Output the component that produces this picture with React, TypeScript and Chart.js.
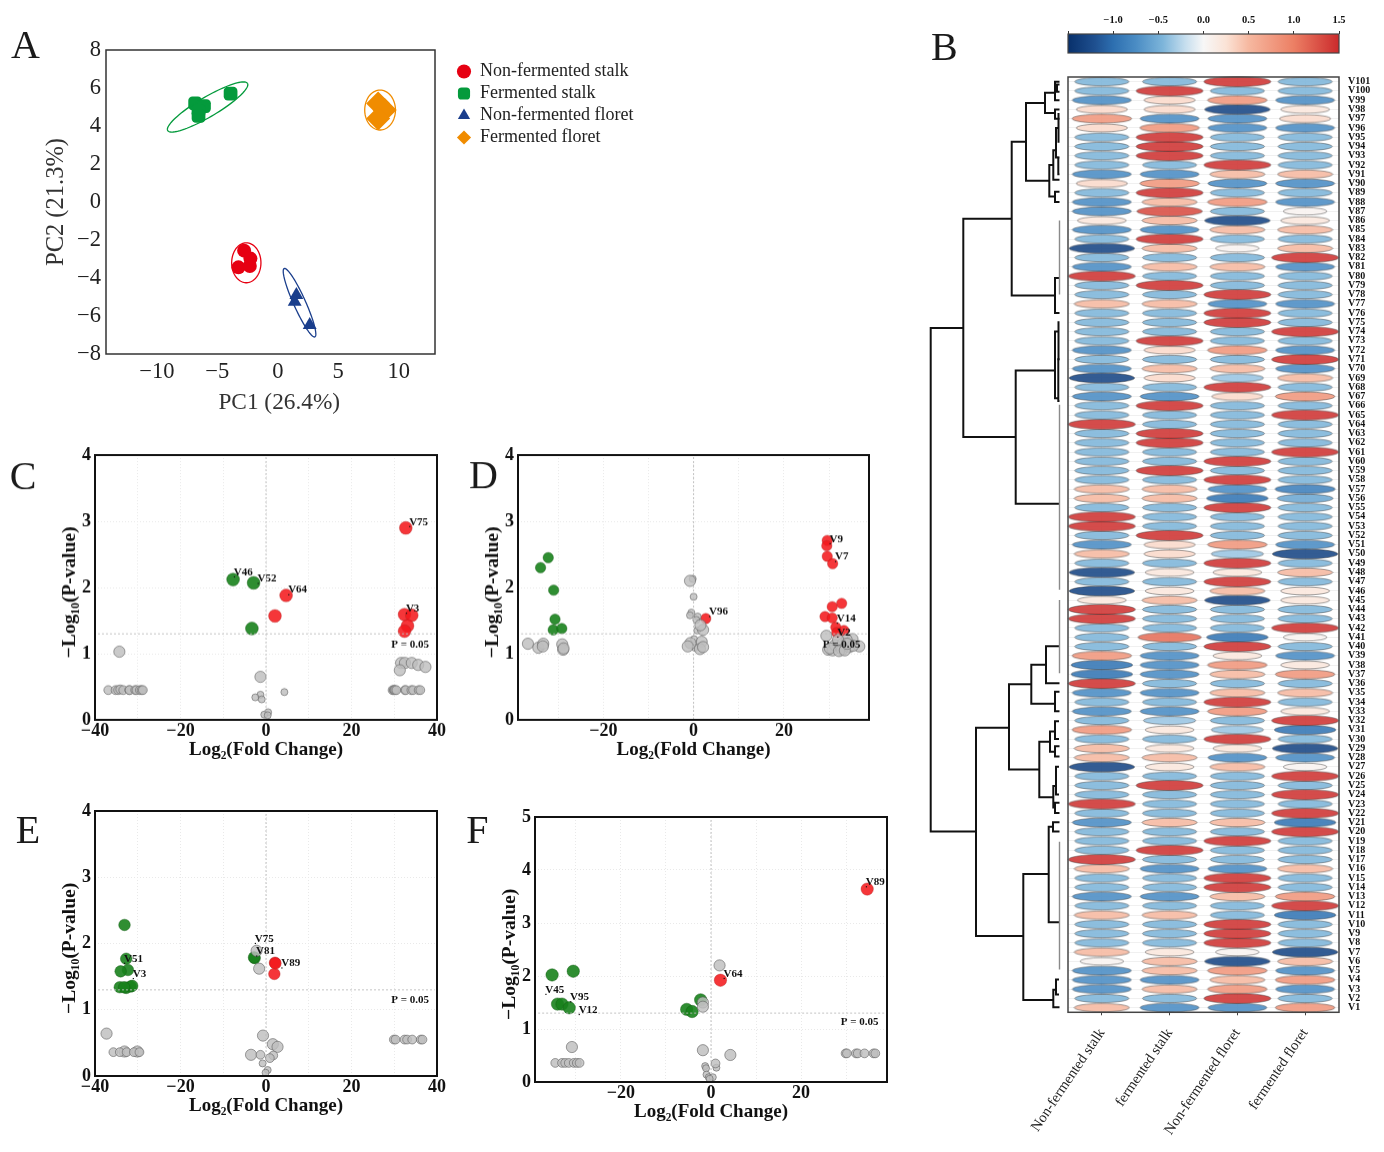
import React, { useEffect, useRef } from "react";
import { Chart, registerables } from "chart.js";

Chart.register(...registerables);

// ---------- Panel A ----------
const pcaStalk = [[-2.78, -2.56], [-2.26, -2.98], [-3.25, -3.44], [-2.31, -3.37]];
const pcaFermStalk = [[-6.83, 5.19], [-6.1, 5.05], [-6.55, 4.8], [-6.55, 4.53], [-3.9, 5.7]];
const pcaFloret = [[1.54, -4.9], [1.4, -5.25], [2.64, -6.47]];
const pcaFermFloret = [[8.3, 5.19], [8.84, 4.84], [8.3, 4.4]];
const pcaNames = ["Non-fermented stalk", "Fermented stalk", "Non-fermented floret", "Fermented floret"];
const pcaColors = ["#e60012", "#049a3c", "#1a3e8c", "#f08c00"];
// centre x, centre y, major axis vector, minor axis vector (data units)
const pcaEllipses = [
  [-2.6, -3.2, 1.21, 0, 0, 1.05],
  [-5.8, 5.0, 3.3, 1.24, -0.41, 0.45],
  [1.8, -5.3, 1.27, -1.8, 0.45, 0.13],
  [8.46, 4.84, 1.27, 0, 0, 1.05],
];

// ---------- Panel C ----------
const cRed = [[32.7, 2.9], [4.7, 1.88], [2.1, 1.57], [32.4, 1.59], [34.1, 1.58], [33.1, 1.42], [32.4, 1.34]];
const cGreen = [[-7.7, 2.12], [-2.9, 2.07], [-3.3, 1.38]];
const cGray = [[-34.3, 1.03], [31.6, 0.86], [32.5, 0.86], [34.1, 0.86], [35.6, 0.83], [37.3, 0.8], [31.3, 0.75], [-1.3, 0.65]];
const cGrayRow = [[-36.9, 0.45], [-35.2, 0.45], [-34.6, 0.45], [-34.1, 0.46], [-33.4, 0.45], [-32, 0.45], [-31.9, 0.45], [-30.6, 0.45], [-30.3, 0.45], [-29.5, 0.45], [-29.1, 0.45], [-28.8, 0.45],
  [29.6, 0.45], [29.9, 0.45], [30, 0.45], [30.2, 0.45], [30.5, 0.45], [32.5, 0.45], [32.7, 0.45], [34, 0.45], [34.4, 0.45], [35.7, 0.45], [36.1, 0.45]];
const cGraySmall = [[-1.3, 0.38], [-2.5, 0.34], [-1, 0.31], [4.3, 0.42], [0.5, 0.115], [-0.4, 0.08], [0.4, 0.07]];
const cNotes: [string, number, number][] = [["V75", 35.7, 2.99], ["V46", -5.3, 2.23], ["V52", 0.25, 2.13], ["V64", 7.4, 1.96], ["V3", 34.3, 1.68], ["P = 0.05", 33.7, 1.14]];

// ---------- Panel D ----------
const dRed = [[29.6, 2.71], [29.5, 2.63], [29.6, 2.47], [30.8, 2.36], [32.8, 1.76], [30.7, 1.71], [29.1, 1.56], [30.7, 1.54], [31.5, 1.4], [33.3, 1.35], [31.7, 1.32], [2.7, 1.53]];
const dGreen = [[-32.2, 2.45], [-33.9, 2.3], [-31, 1.96], [-30.7, 1.52], [-31.1, 1.36], [-29.2, 1.38]];
const dGray = [[-36.7, 1.15], [-34.4, 1.09], [-33.3, 1.15], [-33.4, 1.11], [-29.1, 1.14], [-28.9, 1.06], [-28.8, 1.08],
  [-0.8, 2.1], [2.1, 1.36], [1.5, 1.43], [1.8, 1.18], [-0.7, 1.16], [-1.3, 1.11], [1.4, 1.07], [2.1, 1.1],
  [29.4, 1.27], [35.2, 1.22], [29.8, 1.06], [30.8, 1.05], [31.3, 1.13], [32.9, 1.06], [33.1, 1.16], [34.5, 1.1], [36.7, 1.11], [33.9, 1.21], [32, 1.21], [35.3, 1.12],
  [30.2, 1.08], [32.2, 1.04], [33.5, 1.05], [34, 1.15]];
const dGrayRow: number[][] = [];
const dGraySmall = [[-0.2, 2.13], [0, 1.86], [-0.5, 1.62], [-0.8, 1.58], [0.9, 1.56], [0.6, 1.51], [0.8, 1.35], [0.1, 1.22], [0.3, 1.09]];
const dNotes: [string, number, number][] = [["V9", 31.6, 2.73], ["V7", 32.8, 2.46], ["V96", 5.5, 1.63], ["V14", 33.8, 1.53], ["V2", 33.3, 1.32], ["P = 0.05", 32.8, 1.14]];

// ---------- Panel E ----------
const eRed = [[2.1, 1.71], [1.95, 1.54], [2.2, 1.7]];
const eGreen = [[-33.1, 2.28], [-32.7, 1.77], [-32.3, 1.6], [-34, 1.58], [-34.2, 1.34], [-32.7, 1.33], [-31.7, 1.35], [-31.3, 1.36], [-33.2, 1.34], [-2.65, 1.78], [-2.8, 1.79]];
const eGray = [[-37.3, 0.64], [-2.2, 1.89], [-1.6, 1.62], [-0.7, 0.61], [1.6, 0.48], [2.7, 0.44], [-3.5, 0.32], [-33.1, 0.37], [-30.1, 0.37]];
const eGrayRow = [[-35.7, 0.36], [-34.2, 0.36], [-32.6, 0.36], [-30.9, 0.36], [-29.6, 0.36], [-1.3, 0.32], [1.7, 0.31], [0.9, 0.27],
  [29.9, 0.55], [30.3, 0.55], [32.4, 0.55], [33, 0.55], [34.2, 0.55], [36.2, 0.55], [36.6, 0.55]];
const eGraySmall = [[-0.8, 0.19], [0.4, 0.09], [-0.1, 0.05]];
const eNotes: [string, number, number][] = [["V75", -0.4, 2.07], ["V81", -0.1, 1.88], ["V89", 5.8, 1.7], ["V51", -31, 1.77], ["V3", -29.6, 1.54], ["P = 0.05", 33.7, 1.15]];

// ---------- Panel F ----------
const fRed = [[34.7, 3.64], [2.1, 1.92]];
const fGreen = [[-35.3, 2.02], [-30.6, 2.09], [-34.1, 1.47], [-33.1, 1.47], [-31.5, 1.4], [-5.4, 1.37], [-4.2, 1.33], [-2.3, 1.55]];
const fGray = [[1.9, 2.2], [-1.8, 1.5], [-1.8, 1.42], [-30.9, 0.66], [-1.8, 0.6], [4.3, 0.51]];
const fGrayRow = [[-34.6, 0.36], [-33.1, 0.36], [-32.4, 0.36], [-31.6, 0.36], [-30.5, 0.36], [-29.8, 0.36], [-29.2, 0.36], [1, 0.35],
  [29.9, 0.54], [30.2, 0.54], [32.2, 0.54], [32.6, 0.54], [34.1, 0.54], [36.1, 0.54], [36.5, 0.54]];
const fGraySmall = [[1.2, 0.27], [-1.3, 0.3], [-1.1, 0.26], [-1, 0.14], [-0.5, 0.09], [0.4, 0.09], [-0.3, 0.06]];
const fNotes: [string, number, number][] = [["V89", 36.5, 3.77], ["V64", 4.9, 2.04], ["V45", -34.7, 1.74], ["V95", -29.2, 1.6], ["V12", -27.3, 1.36], ["P = 0.05", 33, 1.13]];

const pThreshold = 1.3;

// ---------- Panel B ----------
const sampleNames = ["Non-fermented stalk", "fermented stalk", "Non-fermented floret", "fermented floret"];
const rowNames = Array.from({ length: 101 }, (_, i) => "V" + (101 - i));
// values from V1 to V101
const nonFermStalk = [
  0.5, -0.45, -0.75, -0.75, -0.75, 0.05, 0.5, -0.45, -0.45, -0.45,
  0.5, -0.45, -0.75, -0.45, -0.45, 0.5, 1.45, -0.45, -0.45, -0.45,
  -0.75, -0.45, 1.45, -0.45, -0.45, -0.45, -1.3, 0.5, 0.5, -0.45,
  0.8, -0.45, -0.75, -0.45, -0.75, 1.45, -0.95, -0.95, 0.8, -0.45,
  -0.45, -0.45, 1.45, 1.45, 0.2, -1.3, -0.45, -1.3, -0.45, 0.5,
  -0.75, -0.45, 1.45, 1.45, -0.45, 0.5, 0.5, -0.45, -0.45, -0.45,
  -0.45, -0.45, -0.45, 1.45, -0.45, -0.45, -0.75, -0.45, -1.3, -0.75,
  -0.45, -0.75, -0.45, -0.45, -0.45, -0.45, 0.5, -0.45, -0.45, 1.45,
  -0.75, -0.45, -1.3, -0.45, -0.75, 0.2, -0.75, -0.75, -0.45, 0.3,
  -0.75, -0.45, -0.45, -0.45, -0.45, 0.3, 0.8, 0.3, -0.75, -0.45, -0.45,
];
const fermStalk = [
  -0.75, -0.45, 0.5, -0.75, 0.5, 0.5, 0.2, -0.45, -0.45, -0.45,
  0.5, -0.45, -0.75, -0.45, -0.45, -0.75, -0.45, 1.45, -0.45, -0.45,
  0.5, -0.45, -0.45, -0.45, 1.45, -0.45, 0.2, 0.5, 0.2, -0.45,
  0.2, -0.35, -0.75, -0.45, -0.75, -0.45, -0.75, -0.75, -0.75, -0.45,
  1.1, -0.45, -0.45, -0.45, 0.5, 0.2, -0.45, 0.2, -0.45, 0.3,
  0.3, 1.45, -0.45, -0.45, -0.45, 0.5, 0.5, -0.45, 1.45, -0.45,
  -0.45, 1.45, 1.45, -0.45, -0.45, 1.45, -0.75, -0.45, 0.3, 0.5,
  -0.45, 0.3, 1.45, -0.45, -0.45, -0.45, 0.5, -0.45, 1.45, -0.45,
  0.5, -0.45, 0.5, 1.45, -0.75, 0.5, 1.3, 0.5, 1.45, 0.8,
  -0.75, -0.45, 1.45, 1.45, 1.45, 0.8, -0.75, 0.3, 0.3, 1.45, -0.45,
];
const nonFermFloret = [
  -0.75, 1.45, 0.8, 0.5, 0.8, -1.3, 0.05, 1.45, 1.45, 1.45,
  -0.45, -0.45, 0.5, 1.45, 1.45, -0.75, -0.45, -0.45, 1.45, -0.45,
  0.5, -0.45, -0.45, -0.45, -0.45, -0.45, 0.5, -0.75, 0.2, 1.45,
  -0.35, -0.45, 0.8, 1.45, 0.5, -0.45, 0.5, 0.8, 0.2, 1.45,
  -0.95, -0.45, -0.45, -0.45, -1.3, 0.5, 1.45, 0.2, 1.45, -0.35,
  0.8, -0.45, -0.45, -0.45, 1.45, -0.95, -0.75, 1.45, -0.45, 1.45,
  -0.45, -0.45, -0.45, -0.45, -0.45, -0.45, 0.3, 1.45, -0.35, 0.5,
  -0.45, 0.8, -0.45, -0.45, 1.45, 1.45, -0.75, 1.45, -0.45, -0.45,
  0.5, -0.45, 0.05, -0.45, 0.5, -1.3, -0.45, 0.8, -0.45, -0.75,
  0.5, 1.45, -0.45, -0.45, -0.45, -0.75, -0.75, -1.3, 0.8, -0.45, 1.45,
];
const fermFloret = [
  0.8, -0.45, -0.75, 0.8, -0.75, 0.5, -1.3, -0.45, -0.45, -0.45,
  -0.95, 1.45, 0.8, -0.45, -0.45, 0.5, -0.45, -0.45, -0.45, 1.45,
  -0.95, 1.45, -0.45, 1.45, -0.45, 1.45, 0.05, -0.75, -1.3, -0.45,
  -0.95, 1.45, 0.2, -0.45, 0.5, -0.45, 0.8, 0.2, -0.75, -0.45,
  0.05, 1.45, -0.45, -0.45, 0.2, 0.2, -0.45, 0.5, -0.45, -1.3,
  -0.75, -0.45, -0.45, -0.45, -0.45, -0.55, -0.85, -0.45, -0.45, -0.45,
  1.45, -0.45, -0.45, -0.45, 1.45, -0.45, 0.8, -0.45, 0.5, -0.75,
  1.45, -0.75, -0.45, 1.45, -0.45, -0.45, -0.75, -0.45, -0.45, -0.45,
  -0.75, 1.45, 0.5, -0.45, 0.5, 0.2, 0.05, -0.75, -0.45, -0.75,
  0.5, -0.45, -0.45, -0.45, -0.45, -0.75, 0.3, 0.2, -0.75, -0.45, -0.45,
];
const heatColumns = [nonFermStalk, fermStalk, nonFermFloret, fermFloret];

const colorStops: [number, string][] = [
  [-1.5, "#08306b"], [-1.2, "#1f5090"], [-1, "#2d6fb0"], [-0.75, "#4a8cc4"], [-0.45, "#7db5da"], [-0.2, "#c6deee"],
  [0, "#f7f7f7"], [0.25, "#fbe3d6"], [0.5, "#f6b8a0"], [1, "#ec7f64"], [1.5, "#cb2a2c"],
];
const colorbarTicks = { min: -1.5, max: 1.5, step: 0.5 };

// merge distance, upper row, lower row, upper child distance, lower child distance
const dendroLinks = [
  [128.8, 74.4, 20, 96.2, 83.5], [96.2, 86.2, 62.6, 47.8, 43.8], [47.8, 94.5, 77.9, 33.5, 4.5], [33.5, 98.7, 90.3, 14.5, 10.2],
  [14.5, 99.8, 97.6, 4.5, 4.5], [4.5, 101, 99, 0, 0], [2.5, 100.7, 99.9, 0, 0], [4.5, 98, 97, 0, 0], [10.2, 92, 88.6, 6.2, 4.5], [6.2, 93.6, 90.4, 3.5, 0],
  [3.5, 96, 92.8, 1, 1], [1, 97.5, 94.5, 0, 0], [1.2, 92.8, 91, 0, 0], [4.5, 89.1, 88, 0, 0], [4.5, 79.8, 76, 0, 0], [43.8, 69.8, 55.4, 4.5, 0], [4.5, 74, 66.8, 1, 1], [1, 75, 71, 0, 0], [1.2, 71, 66.5, 0, 0],
  [83.5, 31.2, 8.7, 50.5, 36.2], [50.5, 35.9, 26.7, 28.2, 20.2], [28.2, 38, 33.8, 13.5, 4.5], [13.5, 40, 36, 0, 0], [4.5, 35.1, 33, 0, 0],
  [20.2, 29.7, 23.7, 9.5, 6.2], [9.5, 30.8, 28.6, 4.5, 4.5], [4.5, 31.9, 30, 0.5, 0.5], [4.5, 29.2, 28.1, 0, 0], [6.2, 24.9, 22.6, 3.5, 4.5],
  [3.5, 27, 24, 0.5, 0.5], [4.5, 23.1, 22, 0, 0], [36.2, 15.4, 1.8, 10.8, 6.2], [10.8, 20.5, 10.2, 6.5, 0], [6.5, 21, 20, 0, 0],
  [6.2, 2.9, 1, 3.5, 0], [3.5, 4, 2.4, 0.5, 0.5],
];
const dendroFlat = [[86, 78], [66.1, 46.1], [45, 37.1], [18.9, 5.1]];

// ---------- helpers ----------
const SERIF = "'Liberation Serif', 'Times New Roman', serif";
const minus = (v: number | string) => String(v).replace("-", "\u2212");
const fixY = (w: number) => (s: any) => { s.width = w; s.paddingTop = 0; s.paddingBottom = 0; };
const fixX = (h: number) => (s: any) => { s.height = h; s.paddingLeft = 0; s.paddingRight = 0; };
const xy = (p: number[][]) => p.map(([x, y]) => ({ x, y }));

function hex(c: string) {
  return [1, 3, 5].map((i) => parseInt(c.slice(i, i + 2), 16));
}
function colorFor(v: number) {
  for (let i = 1; i < colorStops.length; i++) {
    if (v <= colorStops[i][0]) {
      const [a, ca] = colorStops[i - 1];
      const [b, cb] = colorStops[i];
      const t = (v - a) / (b - a);
      const A = hex(ca), B = hex(cb);
      return `rgb(${A.map((n, k) => Math.round(n + (B[k] - n) * t)).join(",")})`;
    }
  }
  return colorStops[colorStops.length - 1][1];
}
const sprites = new Map<number, HTMLCanvasElement>();
function ellipseSprite(v: number) {
  let c = sprites.get(v);
  if (c) return c;
  const m = Math.abs(v);
  const w = 38 + 24 * Math.sqrt(m);
  const h = 7.4 + 1.8 * m;
  c = document.createElement("canvas");
  c.width = Math.ceil(w + 2);
  c.height = Math.ceil(h + 2);
  const g = c.getContext("2d")!;
  g.beginPath();
  g.ellipse(c.width / 2, c.height / 2, w / 2, h / 2, 0, 0, Math.PI * 2);
  g.fillStyle = colorFor(v);
  g.globalAlpha = 0.88;
  g.fill();
  g.globalAlpha = 1;
  g.lineWidth = 0.6;
  g.strokeStyle = "rgba(50,50,50,0.75)";
  g.stroke();
  sprites.set(v, c);
  return c;
}

const framePlugin = (color: string, lineWidth: number) => ({
  id: "frame",
  afterDatasetsDraw(chart: any) {
    const { ctx, chartArea: a } = chart;
    ctx.save();
    ctx.strokeStyle = color;
    ctx.lineWidth = lineWidth;
    ctx.strokeRect(a.left, a.top, a.right - a.left, a.bottom - a.top);
    ctx.restore();
  },
});
const letterPlugin = (t: string, x: number, y: number) => ({
  id: "letter",
  afterDraw(chart: any) {
    const { ctx } = chart;
    ctx.save();
    ctx.font = `40px ${SERIF}`;
    ctx.fillStyle = "#1a1a1a";
    ctx.textAlign = "left";
    ctx.textBaseline = "alphabetic";
    ctx.fillText(t, x, y);
    ctx.restore();
  },
});
const notesPlugin = (notes: [string, number, number][]) => ({
  id: "notes",
  afterDatasetsDraw(chart: any) {
    const { ctx, scales } = chart;
    ctx.save();
    ctx.font = `bold 11px ${SERIF}`;
    ctx.fillStyle = "#111";
    ctx.textAlign = "center";
    ctx.textBaseline = "middle";
    notes.forEach(([t, x, y]) => {
      const px = scales.x.getPixelForValue(x);
      const py = scales.y.getPixelForValue(y);
      ctx.fillText(t, px, py);
      if (t[0] === "V") ctx.fillRect(px - ctx.measureText(t).width / 2, py + 4, 1.2, 1.2);
    });
    ctx.restore();
  },
});
const ellipsePlugin = {
  id: "pcaEllipses",
  afterDatasetsDraw(chart: any) {
    const { ctx, scales } = chart;
    pcaEllipses.forEach(([cx, cy, ux, uy, vx, vy], i) => {
      ctx.save();
      ctx.strokeStyle = pcaColors[i];
      ctx.lineWidth = 1.3;
      ctx.beginPath();
      for (let k = 0; k <= 90; k++) {
        const t = (k / 90) * Math.PI * 2;
        const X = scales.x.getPixelForValue(cx + ux * Math.cos(t) + vx * Math.sin(t));
        const Y = scales.y.getPixelForValue(cy + uy * Math.cos(t) + vy * Math.sin(t));
        k ? ctx.lineTo(X, Y) : ctx.moveTo(X, Y);
      }
      ctx.stroke();
      ctx.restore();
    });
  },
};
const legendPlace = (left: number, top: number) => ({
  id: "legendPlace",
  afterLayout(chart: any) {
    const L = chart.legend;
    L.left = left; L.top = top; L.right = left + 210; L.bottom = top + 120;
  },
});

const base = {
  animation: false as const,
  responsive: false,
  maintainAspectRatio: false,
  events: [] as string[],
};

// ---------- chart configs ----------
function pcaConfig(): any {
  const series = [pcaStalk, pcaFermStalk, pcaFloret, pcaFermFloret];
  const styles = ["circle", "rectRounded", "triangle", "rectRot"];
  const radii = [7, 8, 8, 12];
  return {
    type: "scatter",
    data: {
      datasets: series.map((d, i) => ({
        label: pcaNames[i], data: xy(d), pointStyle: styles[i], pointRadius: radii[i],
        backgroundColor: pcaColors[i], borderColor: pcaColors[i], borderWidth: 0,
      })),
    },
    options: {
      ...base,
      layout: { padding: { top: 30, right: 225, left: 0, bottom: 0 } },
      plugins: {
        tooltip: { enabled: false },
        legend: {
          position: "chartArea", align: "start",
          labels: { usePointStyle: true, boxWidth: 14, boxHeight: 10, padding: 4, color: "#222", font: { family: SERIF, size: 18 } },
        },
      },
      scales: {
        x: {
          type: "linear", min: -14.2, max: 13, afterFit: fixX(66), grid: { display: false, drawTicks: false }, border: { display: false },
          ticks: { stepSize: 5, includeBounds: false, maxRotation: 0, autoSkip: false, padding: 5, color: "#222", font: { family: SERIF, size: 22.5 }, callback: minus },
          title: { display: true, text: "\u00A0\u00A0\u00A0PC1 (26.4%)", color: "#333", font: { family: SERIF, size: 23.3 }, padding: { top: 0, bottom: 3 } },
        },
        y: {
          min: -8, max: 8, afterFit: fixY(106), grid: { display: false, drawTicks: false }, border: { display: false },
          ticks: { stepSize: 2, padding: 5, color: "#222", font: { family: SERIF, size: 22.5 }, callback: minus },
          title: { display: true, text: "PC2 (21.3%)", color: "#333", font: { family: SERIF, size: 24.5 }, padding: { top: 42, bottom: 0 } },
        },
      },
    },
    plugins: [framePlugin("#333", 1.5), ellipsePlugin, letterPlugin("A", 11, 38), legendPlace(453, 38.5)],
  };
}

interface VolcanoSpec {
  plot: number[]; // left, top, right, bottom on the page
  range: number[]; yMax: number; gray: number[][]; row: number[][]; small: number[][]; red: number[][]; green: number[][];
  dot: number; notes: [string, number, number][]; letter: string; letterX: number; letterY: number;
}
function volcanoConfig(s: VolcanoSpec): any {
  const [l, t] = s.plot;
  const canvasLeft = l - 95;
  const canvasTop = t - 15;
  const [xMin, xMax] = s.range;
  const guide = { borderColor: "#bdbdbd", borderWidth: 0.9, borderDash: [2, 2], pointRadius: 0, showLine: true, fill: false };
  const gray = { backgroundColor: "rgba(190,190,190,0.82)", borderColor: "rgba(95,95,95,0.85)", borderWidth: 0.7 };
  const faint = "#e9e9e9";
  return {
    type: "scatter",
    data: {
      datasets: [
        { ...guide, data: [{ x: 0, y: 0 }, { x: 0, y: s.yMax }] },
        { ...guide, data: [{ x: xMin + 0.7, y: pThreshold }, { x: xMax - 0.5, y: pThreshold }] },
        { ...gray, data: xy(s.row), pointRadius: 4.4 },
        { ...gray, data: xy(s.gray), pointRadius: 5.6 },
        { ...gray, data: xy(s.small), pointRadius: 3.5 },
        { data: xy(s.green), pointRadius: s.dot, backgroundColor: "rgba(24,130,28,0.9)", borderColor: "rgba(20,90,20,0.7)", borderWidth: 0.6 },
        { data: xy(s.red), pointRadius: s.dot, backgroundColor: "rgba(244,26,30,0.88)", borderColor: "rgba(170,30,30,0.6)", borderWidth: 0.6 },
      ],
    },
    options: {
      ...base,
      layout: { padding: { top: 15, right: 13, left: 0, bottom: 0 } },
      plugins: { tooltip: { enabled: false }, legend: { display: false } },
      scales: {
        x: {
          type: "linear", min: xMin, max: xMax, afterFit: fixX(50),
          grid: { color: faint, drawTicks: false }, border: { display: false, dash: [1, 2] },
          ticks: {
            stepSize: 10, includeBounds: false, maxRotation: 0, autoSkip: false, padding: 1, color: "#111",
            font: { family: SERIF, size: 18, weight: "bold" },
            callback: (v: number) => (v % 20 === 0 ? minus(v) : ""),
          },
          title: { display: true, text: "Log\u2082(Fold Change)", color: "#111", font: { family: SERIF, size: 19, weight: "bold" }, padding: { top: 0, bottom: 9 } },
        },
        y: {
          min: 0, max: s.yMax, afterFit: fixY(95),
          grid: { color: faint, drawTicks: false }, border: { display: false, dash: [1, 2] },
          ticks: { stepSize: 1, padding: 4, color: "#111", font: { family: SERIF, size: 18, weight: "bold" } },
          title: { display: true, text: "\u2212Log\u2081\u2080(P-value)\u00A0\u00A0", color: "#111", font: { family: SERIF, size: 19.5, weight: "bold" }, padding: { top: 58, bottom: 0 } },
        },
      },
    },
    plugins: [framePlugin("#111", 2), notesPlugin(s.notes), letterPlugin(s.letter, s.letterX - canvasLeft, s.letterY - canvasTop)],
  };
}

function heatConfig(): any {
  return {
    type: "scatter",
    data: {
      datasets: heatColumns.map((col, c) => ({
        data: col.map((_, i) => ({ x: sampleNames[c], y: "V" + (i + 1) })),
        pointRadius: 5,
        pointStyle: (ctx: any) => ellipseSprite(col[ctx.dataIndex] ?? 0.05),
        clip: false,
      })),
    },
    options: {
      ...base,
      layout: { padding: { top: 17, left: 68, right: 0, bottom: 0 } },
      plugins: { tooltip: { enabled: false }, legend: { display: false } },
      scales: {
        x: {
          type: "category", labels: sampleNames, offset: true, afterFit: fixX(139.7),
          grid: { color: "#ececec", tickColor: "#444", tickLength: 3, offset: false },
          border: { display: false },
          ticks: { autoSkip: false, minRotation: 56, maxRotation: 56, padding: 10, color: "#222", font: { family: SERIF, size: 14.6 } },
        },
        y: {
          type: "category", labels: rowNames, offset: true, position: "right", afterFit: fixY(45),
          grid: { color: "#f0f0f0", drawTicks: false },
          border: { display: false },
          ticks: { autoSkip: false, padding: 9, color: "#111", font: { family: SERIF, size: 10, weight: "bold" } },
        },
      },
    },
    plugins: [framePlugin("#444", 1.5)],
  };
}

function colorbarConfig(): any {
  const gradient = (ctx: any) => {
    const { chart } = ctx;
    const a = chart.chartArea;
    if (!a) return "#888";
    const g = chart.ctx.createLinearGradient(a.left, 0, a.right, 0);
    colorStops.forEach(([v, c]) => g.addColorStop((v - colorbarTicks.min) / (colorbarTicks.max - colorbarTicks.min), c));
    return g;
  };
  return {
    type: "bar",
    data: { labels: ["z"], datasets: [{ data: [[colorbarTicks.min, colorbarTicks.max]], backgroundColor: gradient, barPercentage: 1, categoryPercentage: 1, borderWidth: 0 }] },
    options: {
      ...base,
      indexAxis: "y",
      layout: { padding: { left: 143, right: 26, top: 0, bottom: 17 } },
      plugins: { tooltip: { enabled: false }, legend: { display: false } },
      scales: {
        x: {
          type: "linear", position: "top", min: colorbarTicks.min, max: colorbarTicks.max, afterFit: fixX(34),
          grid: { drawOnChartArea: false, tickColor: "#333", tickLength: 3 }, border: { display: false },
          ticks: {
            stepSize: colorbarTicks.step, maxRotation: 0, autoSkip: false, padding: 4, color: "#111",
            font: { family: SERIF, size: 10.5, weight: "bold" },
            callback: (v: number) => (v === colorbarTicks.min ? "" : minus(v.toFixed(1))),
          },
        },
        y: { display: false },
      },
    },
    plugins: [framePlugin("#444", 1.2), letterPlugin("B", 6, 60)],
  };
}

function dendroConfig(): any {
  const stem = { showLine: true, pointRadius: 0, borderColor: "#111", borderWidth: 2, fill: false, tension: 0 };
  const links = dendroLinks.map(([d, top, bottom, a, b]) => ({
    ...stem,
    data: [{ x: a, y: top }, { x: d, y: top }, { x: d, y: bottom }, { x: b, y: bottom }],
  }));
  const flats = dendroFlat.map(([top, bottom]) => ({
    ...stem, borderColor: "#8a8a8a", borderWidth: 1.4,
    data: [{ x: 0, y: top }, { x: 0, y: bottom }],
  }));
  return {
    type: "scatter",
    data: { datasets: [...flats, ...links] },
    options: {
      ...base,
      layout: { padding: 0 },
      plugins: { tooltip: { enabled: false }, legend: { display: false } },
      scales: {
        x: { display: false, type: "linear", reverse: true, min: -2.5, max: 134.5 },
        y: { display: false, min: 0.5, max: 101.5 },
      },
    },
  };
}

function Panel(props: { left: number; top: number; width: number; height: number; make: () => any }) {
  const ref = useRef<HTMLCanvasElement>(null);
  useEffect(() => {
    const chart = new Chart(ref.current as HTMLCanvasElement, props.make());
    return () => chart.destroy();
  }, []);
  return (
    <canvas
      ref={ref}
      width={props.width}
      height={props.height}
      style={{ position: "absolute", left: props.left, top: props.top, width: props.width, height: props.height }}
    />
  );
}

const specC: VolcanoSpec = { plot: [95.3, 455.3, 437.3, 720], range: [-40, 40], yMax: 4, gray: cGray, row: cGrayRow, small: cGraySmall, red: cRed, green: cGreen, dot: 6.4, notes: cNotes, letter: "C", letterX: 10, letterY: 489 };
const specD: VolcanoSpec = { plot: [518, 455.3, 869.3, 720], range: [-38.9, 38.85], yMax: 4, gray: dGray, row: dGrayRow, small: dGraySmall, red: dRed, green: dGreen, dot: 5.2, notes: dNotes, letter: "D", letterX: 469, letterY: 488 };
const specE: VolcanoSpec = { plot: [95.3, 811, 437.3, 1076], range: [-40, 40], yMax: 4, gray: eGray, row: eGrayRow, small: eGraySmall, red: eRed, green: eGreen, dot: 5.8, notes: eNotes, letter: "E", letterX: 16, letterY: 843 };
const specF: VolcanoSpec = { plot: [534.7, 816.7, 886.7, 1081.7], range: [-39.1, 39.1], yMax: 5, gray: fGray, row: fGrayRow, small: fGraySmall, red: fRed, green: fGreen, dot: 6.2, notes: fNotes, letter: "F", letterX: 466, letterY: 843 };

function volcanoBox(s: VolcanoSpec) {
  const [l, t, r, b] = s.plot;
  return { left: l - 95, top: t - 15, width: r - l + 95 + 13, height: b - t + 15 + 50 };
}

export default function App() {
  return (
    <div style={{ position: "absolute", left: 0, top: 0, width: 1384, height: 1152, background: "#fff", overflow: "hidden" }}>
      <Panel left={0} top={20} width={660} height={400} make={pcaConfig} />
      {[specC, specD, specE, specF].map((s) => (
        <Panel key={s.letter} {...volcanoBox(s)} make={() => volcanoConfig(s)} />
      ))}
      <Panel left={925} top={77} width={137} height={935.3} make={dendroConfig} />
      <Panel left={925} top={0} width={440} height={70} make={colorbarConfig} />
      <Panel left={1000} top={60} width={384} height={1092} make={heatConfig} />
    </div>
  );
}
